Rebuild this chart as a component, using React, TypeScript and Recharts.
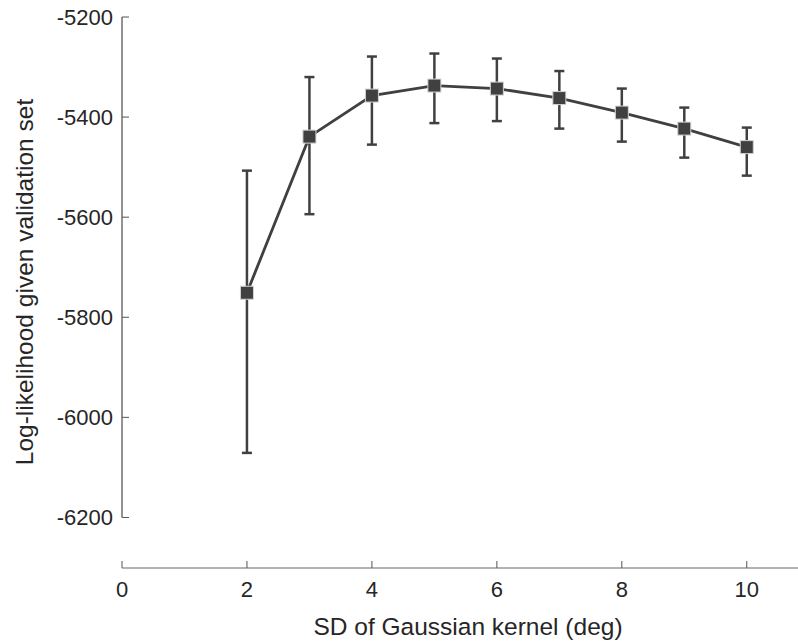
import React from 'react';
import {
  ComposedChart,
  Line,
  XAxis,
  YAxis,
  ErrorBar,
  ReferenceLine,
  Label,
} from 'recharts';

// SD of Gaussian kernel (deg)
const kernelSd = [2, 3, 4, 5, 6, 7, 8, 9, 10];
// mean log-likelihood and the ends of each error bar
const logLik = [-5751, -5439, -5357, -5337, -5343, -5362, -5391, -5423, -5460];
const errLow = [-6071, -5594, -5455, -5412, -5408, -5423, -5449, -5481, -5517];
const errHigh = [-5507, -5320, -5279, -5273, -5283, -5308, -5343, -5381, -5421];

const xTicks = [0, 2, 4, 6, 8, 10];
const yTicks = [-5200, -5400, -5600, -5800, -6000, -6200];

const data = kernelSd.map((sd, i) => ({
  sd,
  ll: logLik[i],
  err: [logLik[i] - errLow[i], errHigh[i] - logLik[i]],
}));

const FONT = '"Liberation Sans", Arial, Helvetica, sans-serif';
const INK = '#404040';

const XTick = (props: any) => {
  const { x, y, payload } = props;
  return (
    <g>
      <line x1={x} y1={y} x2={x} y2={y - 7} stroke="#555" strokeWidth={1} />
      <text x={x} y={y + 29} textAnchor="middle" fontSize={22} fill="#262626" fontFamily={FONT}>
        {payload.value}
      </text>
    </g>
  );
};

const YTick = (props: any) => {
  const { x, y, payload } = props;
  return (
    <g>
      <line x1={x} y1={y} x2={x + 7} y2={y} stroke="#555" strokeWidth={1} />
      <text x={x - 9} y={y + 8} textAnchor="end" fontSize={22} fill="#262626" fontFamily={FONT}>
        {payload.value}
      </text>
    </g>
  );
};

const SquareDot = (props: any) => {
  const { cx, cy, index } = props;
  if (cx == null || cy == null) return null;
  return (
    <rect
      key={`dot-${index}`}
      x={cx - 6.5}
      y={cy - 6.5}
      width={13}
      height={13}
      fill={INK}
      stroke="#d4d4d4"
      strokeWidth={1}
    />
  );
};

export default function App() {
  return (
    <div style={{ position: 'absolute', left: 0, top: 0, background: '#fff' }}>
      <ComposedChart
        width={798}
        height={644}
        data={data}
        margin={{ top: 17, right: 0, bottom: 0, left: 0 }}
      >
        <XAxis
          dataKey="sd"
          type="number"
          domain={[0, 10.82]}
          ticks={xTicks}
          allowDataOverflow
          height={76}
          tickSize={0}
          tickMargin={0}
          tickLine={false}
          axisLine={{ stroke: '#666', strokeWidth: 1 }}
          tick={<XTick />}
          interval={0}
        >
          <Label
            content={() => (
              <text
                x={468}
                y={635}
                textAnchor="middle"
                fontSize={24.5}
                fill="#262626"
                fontFamily={FONT}
              >
                SD of Gaussian kernel (deg)
              </text>
            )}
          />
        </XAxis>
        <YAxis
          type="number"
          domain={[-6301, -5200]}
          ticks={yTicks}
          allowDataOverflow
          width={122}
          tickSize={0}
          tickMargin={0}
          tickLine={false}
          axisLine={false}
          tick={<YTick />}
          interval={0}
        >
          <Label
            content={() => (
              <text
                x={33}
                y={282}
                transform="rotate(-90, 33, 282)"
                textAnchor="middle"
                fontSize={24.5}
                fill="#262626"
                fontFamily={FONT}
              >
                Log-likelihood given validation set
              </text>
            )}
          />
        </YAxis>
        <ReferenceLine
          segment={[
            { x: 0, y: -5200 },
            { x: 0, y: -6200 },
          ]}
          stroke="#262626"
          strokeWidth={1}
          ifOverflow="visible"
        />
        <Line
          dataKey="ll"
          stroke={INK}
          strokeWidth={2.8}
          type="linear"
          dot={<SquareDot />}
          activeDot={false}
          isAnimationActive={false}
        >
          <ErrorBar dataKey="err" direction="y" width={5} stroke={INK} strokeWidth={2.5} />
        </Line>
      </ComposedChart>
    </div>
  );
}
